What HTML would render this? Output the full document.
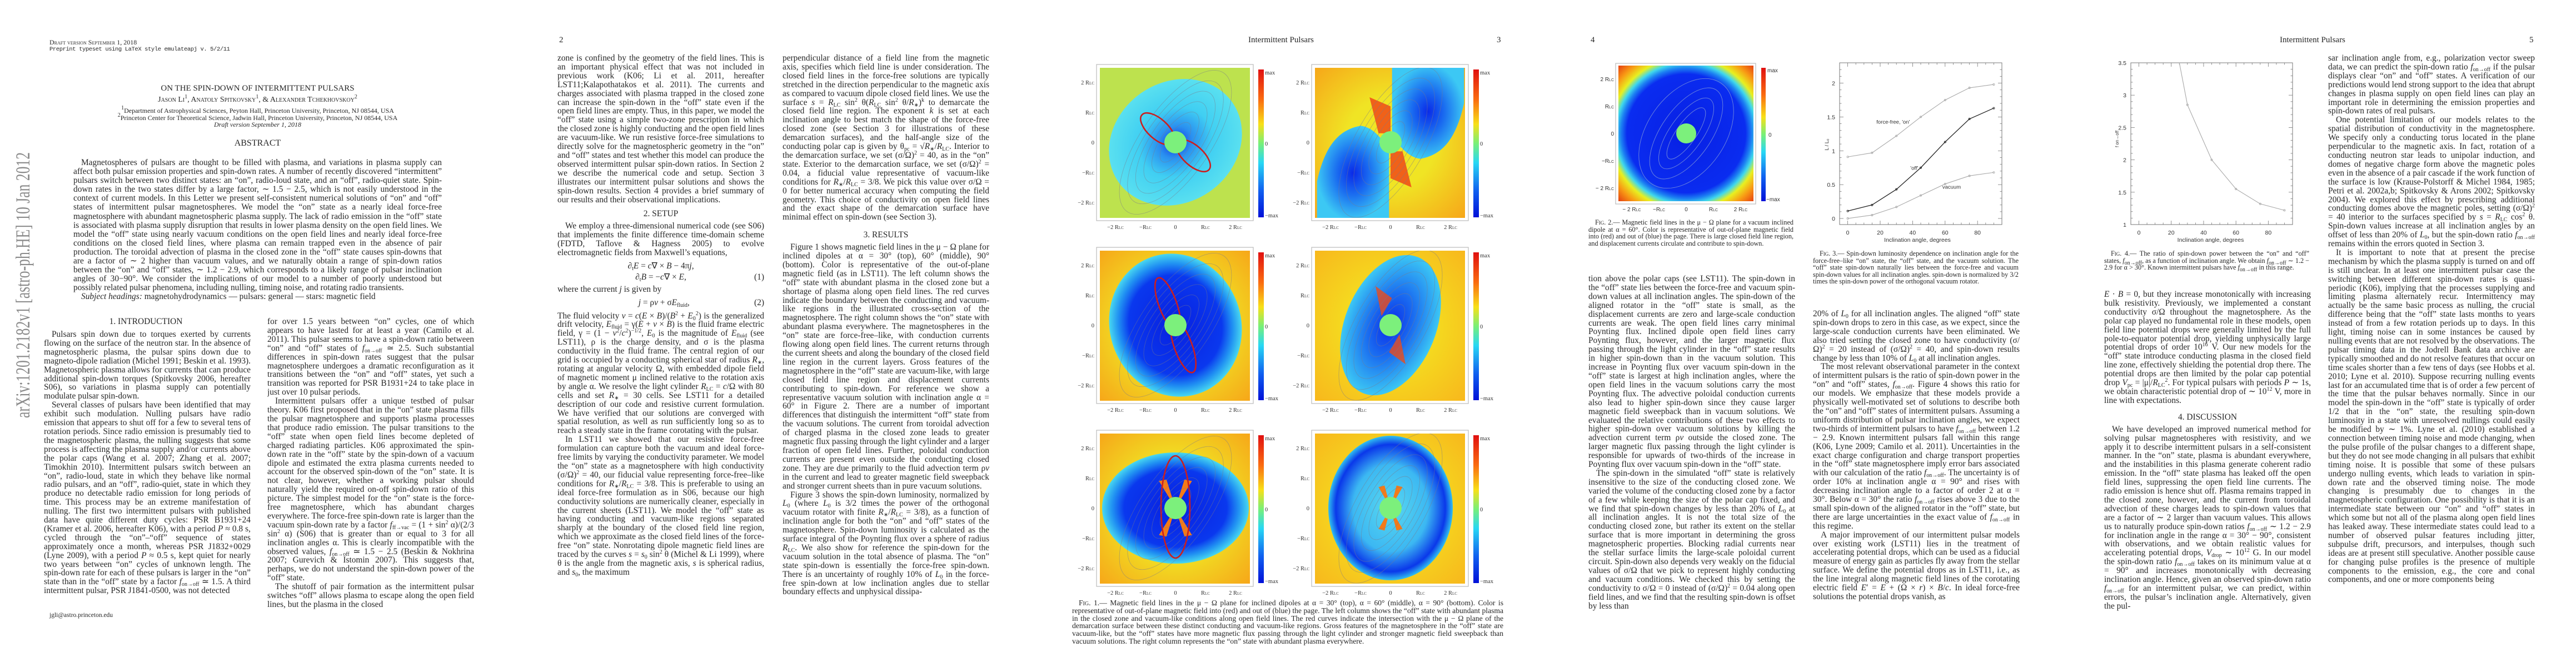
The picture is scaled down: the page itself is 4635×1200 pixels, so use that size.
<!DOCTYPE html>
<html><head><meta charset="utf-8">
<style>
html,body{margin:0;padding:0;background:#fff}
body{width:4635px;height:1200px;position:relative;overflow:hidden;font-family:"Liberation Serif",serif;color:#262626}
.abs{position:absolute}
.col{position:absolute;width:372px;font-size:15.4px;line-height:15.9px;text-align:justify;overflow:hidden}
.col p{margin:0;text-indent:14px}
.col p.ni{text-indent:0}
.sec{text-align:center;margin:10px 0 6px 0;font-size:15.4px;letter-spacing:0}
.eq{text-align:center;position:relative;margin:4px 0}
.eq .n{position:absolute;right:0}
.sb{font-size:10px;position:relative;top:3px;line-height:0}
.sp{font-size:10px;position:relative;top:-6px;line-height:0}
.cap{position:absolute;font-size:12.2px;line-height:12.6px;text-align:justify}
.cap p{margin:0;text-indent:12px}
.hdr{position:absolute;font-size:15px;top:64px}
svg text{font-family:"Liberation Sans",sans-serif}
.sc{font-variant:small-caps}
</style></head>
<body>

<svg class="abs" style="left:0;top:0" width="80" height="1200">
<text x="0" y="0" transform="translate(53,752) rotate(-90)" textLength="478" lengthAdjust="spacingAndGlyphs" font-size="36" fill="#8a8a8a" style="font-family:'Liberation Serif',serif">arXiv:1201.2182v1  [astro-ph.HE]  10 Jan 2012</text>
</svg>

<!-- PAGE 1 -->
<div class="abs sc" style="left:89px;top:69px;font-size:12px">Draft version September 1, 2018</div>
<div class="abs" style="left:89px;top:83px;font-size:10.5px;font-family:'Liberation Mono',monospace;letter-spacing:-0.4px">Preprint typeset using LaTeX style emulateapj v. 5/2/11</div>
<div class="abs" style="left:132px;width:663px;top:151px;text-align:center;font-size:15px">ON THE SPIN-DOWN OF INTERMITTENT PULSARS</div>
<div class="abs sc" style="left:132px;width:663px;top:172px;text-align:center;font-size:14px">Jason Li<span class="sp">1</span>, Anatoly Spitkovsky<span class="sp">1</span>, &amp; Alexander Tchekhovskoy<span class="sp">2</span></div>
<div class="abs" style="left:132px;width:663px;top:193px;text-align:center;font-size:12px;line-height:12.6px"><span class="sp">1</span>Department of Astrophysical Sciences, Peyton Hall, Princeton University, Princeton, NJ 08544, USA<br><span class="sp">2</span>Princeton Center for Theoretical Science, Jadwin Hall, Princeton University, Princeton, NJ 08544, USA<br><i>Draft version September 1, 2018</i></div>
<div class="abs" style="left:132px;width:663px;top:249px;text-align:center;font-size:16px">ABSTRACT</div>
<div class="col fit" style="left:132px;width:663px;top:285px;height:262px;line-height:16.1px"><p>Magnetospheres of pulsars are thought to be filled with plasma, and variations in plasma supply can affect both pulsar emission properties and spin-down rates. A number of recently discovered “intermittent” pulsars switch between two distinct states: an “on”, radio-loud state, and an “off”, radio-quiet state. Spin-down rates in the two states differ by a large factor, ∼ 1.5 − 2.5, which is not easily understood in the context of current models. In this Letter we present self-consistent numerical solutions of “on” and “off” states of intermittent pulsar magnetospheres. We model the “on” state as a nearly ideal force-free magnetosphere with abundant magnetospheric plasma supply. The lack of radio emission in the “off” state is associated with plasma supply disruption that results in lower plasma density on the open field lines. We model the “off” state using nearly vacuum conditions on the open field lines and nearly ideal force-free conditions on the closed field lines, where plasma can remain trapped even in the absence of pair production. The toroidal advection of plasma in the closed zone in the “off” state causes spin-downs that are a factor of ∼ 2 higher than vacuum values, and we naturally obtain a range of spin-down ratios between the “on” and “off” states, ∼ 1.2 − 2.9, which corresponds to a likely range of pulsar inclination angles of 30−90°. We consider the implications of our model to a number of poorly understood but possibly related pulsar phenomena, including nulling, timing noise, and rotating radio transients.</p>
<p><i>Subject headings:</i> magnetohydrodynamics — pulsars: general — stars: magnetic field</p></div>

<div class="abs" style="left:79px;width:367px;top:570px;text-align:center;font-size:15.4px">1. INTRODUCTION</div>
<div class="col fit" style="left:79px;top:594px;height:495px"><p>Pulsars spin down due to torques exerted by currents flowing on the surface of the neutron star. In the absence of magnetospheric plasma, the pulsar spins down due to magneto-dipole radiation (Michel 1991; Beskin et al. 1993). Magnetospheric plasma allows for currents that can produce additional spin-down torques (Spitkovsky 2006, hereafter S06), so variations in plasma supply can potentially modulate pulsar spin-down.</p><p>Several classes of pulsars have been identified that may exhibit such modulation. Nulling pulsars have radio emission that appears to shut off for a few to several tens of rotation periods. Since radio emission is presumably tied to the magnetospheric plasma, the nulling suggests that some process is affecting the plasma supply and/or currents above the polar caps (Wang et al. 2007; Zhang et al. 2007; Timokhin 2010). Intermittent pulsars switch between an “on”, radio-loud, state in which they behave like normal radio pulsars, and an “off”, radio-quiet, state in which they produce no detectable radio emission for long periods of time. This process may be an extreme manifestation of nulling. The first two intermittent pulsars with published data have quite different duty cycles: PSR B1931+24 (Kramer et al. 2006, hereafter K06), with a period <i>P</i> ≈ 0.8 s, cycled through the “on”–“off” sequence of states approximately once a month, whereas PSR J1832+0029 (Lyne 2009), with a period <i>P</i> ≈ 0.5 s, kept quiet for nearly two years between “on” cycles of unknown length. The spin-down rate for each of these pulsars is larger in the “on” state than in the “off” state by a factor <i>f</i><span class="sb">on→off</span> ≃ 1.5. A third intermittent pulsar, PSR J1841-0500, was not detected</p></div>
<div class="abs" style="left:89px;top:1101px;font-size:11.5px">jgli@astro.princeton.edu</div>
<div class="col fit" style="left:481px;top:571px;height:546px"><p class="ni">for over 1.5 years between “on” cycles, one of which appears to have lasted for at least a year (Camilo et al. 2011). This pulsar seems to have a spin-down ratio between “on” and “off” states of <i>f</i><span class="sb">on→off</span> ≃ 2.5. Such substantial differences in spin-down rates suggest that the pulsar magnetosphere undergoes a dramatic reconfiguration as it transitions between the “on” and “off” states, yet such a transition was reported for PSR B1931+24 to take place in just over 10 pulsar periods.</p><p>Intermittent pulsars offer a unique testbed of pulsar theory. K06 first proposed that in the “on” state plasma fills the pulsar magnetosphere and supports plasma processes that produce radio emission. The pulsar transitions to the “off” state when open field lines become depleted of charged radiating particles. K06 approximated the spin-down rate in the “off” state by the spin-down of a vacuum dipole and estimated the extra plasma currents needed to account for the observed spin-down of the “on” state. It is not clear, however, whether a working pulsar should naturally yield the required on-off spin-down ratio of this picture. The simplest model for the “on” state is the force-free magnetosphere, which has abundant charges everywhere. The force-free spin-down rate is larger than the vacuum spin-down rate by a factor <i>f</i><span class="sb">ff→vac</span> = (1 + sin<span class="sp">2</span> α)/(2/3 sin<span class="sp">2</span> α) (S06) that is greater than or equal to 3 for all inclination angles α. This is clearly incompatible with the observed values, <i>f</i><span class="sb">on→off</span> ≃ 1.5 − 2.5 (Beskin &amp; Nokhrina 2007; Gurevich &amp; Istomin 2007). This suggests that, perhaps, we do not understand the spin-down power of the “off” state.</p><p>The shutoff of pair formation as the intermittent pulsar switches “off” allows plasma to escape along the open field lines, but the plasma in the closed</p></div>

<!-- PAGE 2 -->
<div class="hdr" style="left:1006px">2</div>
<div class="col fit" style="left:1003px;top:97px;height:1021px"><p class="ni">zone is confined by the geometry of the field lines. This is an important physical effect that was not included in previous work (K06; Li et al. 2011, hereafter LST11;Kalapothatakos et al. 2011). The currents and charges associated with plasma trapped in the closed zone can increase the spin-down in the “off” state even if the open field lines are empty. Thus, in this paper, we model the “off” state using a simple two-zone prescription in which the closed zone is highly conducting and the open field lines are vacuum-like. We run resistive force-free simulations to directly solve for the magnetospheric geometry in the “on” and “off” states and test whether this model can produce the observed intermittent pulsar spin-down ratios. In Section 2 we describe the numerical code and setup. Section 3 illustrates our intermittent pulsar solutions and shows the spin-down results. Section 4 provides a brief summary of our results and their observational implications.</p>
<div class="sec">2. SETUP</div>
<p>We employ a three-dimensional numerical code (see S06) that implements the finite difference time-domain scheme (FDTD, Taflove &amp; Hagness 2005) to evolve electromagnetic fields from Maxwell’s equations,</p>
<div class="eq" style="margin-top:8px">∂<span class="sb">t</span><i>E</i> = <i>c</i>∇ × <i>B</i> − 4π<i>j</i>,</div>
<div class="eq">∂<span class="sb">t</span><i>B</i> = −<i>c</i>∇ × <i>E</i>,<span class="n">(1)</span></div>
<p class="ni" style="margin-top:6px">where the current <i>j</i> is given by</p>
<div class="eq" style="margin:8px 0">&nbsp;&nbsp;&nbsp;<i>j</i> = ρ<i>v</i> + σ<i>E</i><span class="sb">fluid</span>,<span class="n">(2)</span></div>
<p class="ni">The fluid velocity <i>v</i> = <i>c</i>(<i>E</i> × <i>B</i>)/(<i>B</i><span class="sp">2</span> + <i>E</i><span class="sb">0</span><span class="sp">2</span>) is the generalized drift velocity, <i>E</i><span class="sb">fluid</span> = γ(<i>E</i> + <i>v</i> × <i>B</i>) is the fluid frame electric field, γ = (1 − <i>v</i><span class="sp">2</span>/<i>c</i><span class="sp">2</span>)<span class="sp">−1/2</span>, <i>E</i><span class="sb">0</span> is the magnitude of <i>E</i><span class="sb">fluid</span> (see LST11), ρ is the charge density, and σ is the plasma conductivity in the fluid frame. The central region of our grid is occupied by a conducting spherical star of radius <i>R</i><span class="sb">∗</span>, rotating at angular velocity Ω, with embedded dipole field of magnetic moment μ inclined relative to the rotation axis by angle α. We resolve the light cylinder <i>R</i><span class="sb">LC</span> = <i>c</i>/Ω with 80 cells and set <i>R</i><span class="sb">∗</span> = 30 cells. See LST11 for a detailed description of our code and resistive current formulation. We have verified that our solutions are converged with spatial resolution, as well as run sufficiently long so as to reach a steady state in the frame corotating with the pulsar.</p><p>In LST11 we showed that our resistive force-free formulation can capture both the vacuum and ideal force-free limits by varying the conductivity parameter. We model the “on” state as a magnetosphere with high conductivity (σ/Ω)<span class="sp">2</span> = 40, our fiducial value representing force-free–like conditions for <i>R</i><span class="sb">∗</span>/<i>R</i><span class="sb">LC</span> = 3/8. This is preferable to using an ideal force-free formulation as in S06, because our high conductivity solutions are numerically cleaner, especially in the current sheets (LST11). We model the “off” state as having conducting and vacuum-like regions separated sharply at the boundary of the closed field line region, which we approximate as the closed field lines of the force-free “on” state. Nonrotating dipole magnetic field lines are traced by the curves <i>s</i> = <i>s</i><span class="sb">0</span> sin<span class="sp">2</span> θ (Michel &amp; Li 1999), where θ is the angle from the magnetic axis, <i>s</i> is spherical radius, and <i>s</i><span class="sb">0</span>, the maximum</p></div>
<div class="col fit" style="left:1408px;top:97px;height:1021px"><p class="ni">perpendicular distance of a field line from the magnetic axis, specifies which field line is under consideration. The closed field lines in the force-free solutions are typically stretched in the direction perpendicular to the magnetic axis as compared to vacuum dipole closed field lines. We use the surface <i>s</i> = <i>R</i><span class="sb">LC</span> sin<span class="sp">2</span> θ(<i>R</i><span class="sb">LC</span> sin<span class="sp">2</span> θ/<i>R</i><span class="sb">∗</span>)<span class="sp">k</span> to demarcate the closed field line region. The exponent <i>k</i> is set at each inclination angle to best match the shape of the force-free closed zone (see Section 3 for illustrations of these demarcation surfaces), and the half-angle size of the conducting polar cap is given by θ<span class="sb">pc</span> = √<i>R</i><span class="sb">∗</span>/<i>R</i><span class="sb">LC</span>. Interior to the demarcation surface, we set (σ/Ω)<span class="sp">2</span> = 40, as in the “on” state. Exterior to the demarcation surface, we set (σ/Ω)<span class="sp">2</span> = 0.04, a fiducial value representative of vacuum-like conditions for <i>R</i><span class="sb">∗</span>/<i>R</i><span class="sb">LC</span> = 3/8. We pick this value over σ/Ω = 0 for better numerical accuracy when computing the field geometry. This choice of conductivity on open field lines and the exact shape of the demarcation surface have minimal effect on spin-down (see Section 3).</p>
<div class="sec" style="margin-top:16px">3. RESULTS</div>
<p>Figure 1 shows magnetic field lines in the μ − Ω plane for inclined dipoles at α = 30° (top), 60° (middle), 90° (bottom). Color is representative of the out-of-plane magnetic field (as in LST11). The left column shows the “off” state with abundant plasma in the closed zone but a shortage of plasma along open field lines. The red curves indicate the boundary between the conducting and vacuum-like regions in the illustrated cross-section of the magnetosphere. The right column shows the “on” state with abundant plasma everywhere. The magnetospheres in the “on” state are force-free–like, with conduction currents flowing along open field lines. The current returns through the current sheets and along the boundary of the closed field line region in the current layers. Gross features of the magnetosphere in the “off” state are vacuum-like, with large closed field line region and displacement currents contributing to spin-down. For reference we show a representative vacuum solution with inclination angle α = 60° in Figure 2. There are a number of important differences that distinguish the intermittent “off” state from the vacuum solutions. The current from toroidal advection of charged plasma in the closed zone leads to greater magnetic flux passing through the light cylinder and a larger fraction of open field lines. Further, poloidal conduction currents are present even outside the conducting closed zone. They are due primarily to the fluid advection term ρ<i>v</i> in the current and lead to greater magnetic field sweepback and stronger current sheets than in pure vacuum solutions.</p><p>Figure 3 shows the spin-down luminosity, normalized by <i>L</i><span class="sb">0</span> (where <i>L</i><span class="sb">0</span> is 3/2 times the power of the orthogonal vacuum rotator with finite <i>R</i><span class="sb">∗</span>/<i>R</i><span class="sb">LC</span> = 3/8), as a function of inclination angle for both the “on” and “off” states of the magnetosphere. Spin-down luminosity is calculated as the surface integral of the Poynting flux over a sphere of radius <i>R</i><span class="sb">LC</span>. We also show for reference the spin-down for the vacuum solution in the total absence of plasma. The “on” state spin-down is essentially the force-free spin-down. There is an uncertainty of roughly 10% of <i>L</i><span class="sb">0</span> in the force-free spin-down at low inclination angles due to stellar boundary effects and unphysical dissipa-</p></div>

<!-- PAGE 3 -->
<div class="hdr" style="left:2246px">Intermittent Pulsars</div>
<div class="hdr" style="left:2693px">3</div>
<svg id="fig1" class="abs" style="left:1900px;top:100px" width="800" height="975">
<defs>
<linearGradient id="jet" x1="0" y1="0" x2="0" y2="1">
<stop offset="0" stop-color="#e01010"/><stop offset="0.2" stop-color="#fa6a10"/><stop offset="0.37" stop-color="#f8e018"/><stop offset="0.5" stop-color="#78f078"/><stop offset="0.63" stop-color="#28d8f4"/><stop offset="0.82" stop-color="#1060f0"/><stop offset="1" stop-color="#0010d8"/></linearGradient>
<radialGradient id="cyanblob"><stop offset="0" stop-color="#1030e0"/><stop offset="0.25" stop-color="#2a90f0"/><stop offset="0.55" stop-color="#40cff2"/><stop offset="1" stop-color="#5ae0f0"/></radialGradient>
<radialGradient id="deepblob"><stop offset="0" stop-color="#0820e0"/><stop offset="0.7" stop-color="#0a38ee"/><stop offset="0.86" stop-color="#2090f2"/><stop offset="1" stop-color="#48d8f0"/></radialGradient>
<radialGradient id="onblob"><stop offset="0" stop-color="#0a2ae8"/><stop offset="0.45" stop-color="#1a6cf0"/><stop offset="1" stop-color="#3cc8f4"/></radialGradient>
<radialGradient id="ringblob"><stop offset="0" stop-color="#58d8f0"/><stop offset="0.6" stop-color="#3cb8f2"/><stop offset="0.88" stop-color="#0a38ea"/><stop offset="1" stop-color="#30c0f0"/></radialGradient>
<radialGradient id="yelbg" cx="0.5" cy="0.5" r="0.75"><stop offset="0.4" stop-color="#f0e424"/><stop offset="1" stop-color="#f7a018"/></radialGradient>
<radialGradient id="yelbg2" cx="0.5" cy="0.5" r="0.75"><stop offset="0.3" stop-color="#f4e020"/><stop offset="1" stop-color="#f8b41c"/></radialGradient>
<clipPath id="pclip"><rect x="0" y="0" width="270" height="270"/></clipPath>
</defs>
</svg>
<div class="cap" style="left:1929px;top:1078px;width:776px;font-size:13.6px;line-height:13.8px"><p><span class="sc">Fig.</span> 1.— Magnetic field lines in the μ − Ω plane for inclined dipoles at α = 30° (top), α = 60° (middle), α = 90° (bottom). Color is representative of out-of-plane magnetic field into (red) and out of (blue) the page. The left column shows the “off” state with abundant plasma in the closed zone and vacuum-like conditions along open field lines. The red curves indicate the intersection with the μ − Ω plane of the demarcation surface between these distinct conducting and vacuum-like regions. Gross features of the magnetosphere in the “off” state are vacuum-like, but the “off” states have more magnetic flux passing through the light cylinder and stronger magnetic field sweepback than vacuum solutions. The right column represents the “on” state with abundant plasma everywhere.</p></div>

<!-- PAGE 4 -->
<div class="hdr" style="left:2862px">4</div>
<svg id="fig2" class="abs" style="left:2850px;top:100px" width="380" height="290">
<defs>
<radialGradient id="vacgrad" gradientUnits="userSpaceOnUse" cx="184" cy="140" r="178"><stop offset="0" stop-color="#0820e4"/><stop offset="0.6" stop-color="#0a2cf0"/><stop offset="0.66" stop-color="#1c80f2"/><stop offset="0.71" stop-color="#40d8ec"/><stop offset="0.77" stop-color="#e8f020"/><stop offset="0.86" stop-color="#f89a14"/><stop offset="1" stop-color="#e02410"/></radialGradient>
<linearGradient id="jet2" x1="0" y1="0" x2="0" y2="1">
<stop offset="0" stop-color="#e01010"/><stop offset="0.2" stop-color="#fa6a10"/><stop offset="0.37" stop-color="#f8e018"/><stop offset="0.5" stop-color="#78f078"/><stop offset="0.63" stop-color="#28d8f4"/><stop offset="0.82" stop-color="#1060f0"/><stop offset="1" stop-color="#0010d8"/></linearGradient>
</defs>
<rect x="57" y="14" width="252" height="253" fill="#fff" stroke="#bbb" stroke-width="1.2"/>
<rect x="62" y="18" width="243" height="244" fill="url(#vacgrad)"/>
<g fill="none" stroke="#8aa0d8" stroke-width="0.9" opacity="0.8">
<ellipse cx="184" cy="140" rx="95" ry="45" transform="rotate(-55 184 140)"/>
<ellipse cx="184" cy="140" rx="75" ry="30" transform="rotate(-55 184 140)"/>
<ellipse cx="184" cy="140" rx="110" ry="70" transform="rotate(-55 184 140)"/>
<ellipse cx="184" cy="140" rx="55" ry="18" transform="rotate(-55 184 140)"/>
</g>
<circle cx="184" cy="140" r="18" fill="#7cf07c"/>
<rect x="319" y="22" width="8" height="240" fill="url(#jet2)"/>
<g font-size="10" fill="#333" style="font-family:'Liberation Serif',serif">
<text x="330" y="30">max</text><text x="332" y="146">0</text><text x="328" y="262">−max</text>
<text x="54" y="46" text-anchor="end">2 R<tspan font-size="7">LC</tspan></text>
<text x="54" y="95" text-anchor="end">R<tspan font-size="7">LC</tspan></text>
<text x="54" y="144" text-anchor="end">0</text>
<text x="54" y="193" text-anchor="end">−R<tspan font-size="7">LC</tspan></text>
<text x="54" y="242" text-anchor="end">− 2 R<tspan font-size="7">LC</tspan></text>
<text x="86" y="280" text-anchor="middle">− 2 R<tspan font-size="7">LC</tspan></text>
<text x="135" y="280" text-anchor="middle">−R<tspan font-size="7">LC</tspan></text>
<text x="184" y="280" text-anchor="middle">0</text>
<text x="233" y="280" text-anchor="middle">R<tspan font-size="7">LC</tspan></text>
<text x="282" y="280" text-anchor="middle">2 R<tspan font-size="7">LC</tspan></text>
</g>
</svg>
<div class="cap" style="left:2858px;top:394px;width:369px"><p><span class="sc">Fig.</span> 2.— Magnetic field lines in the μ − Ω plane for a vacuum inclined dipole at α = 60°. Color is representative of out-of-plane magnetic field into (red) and out of (blue) the page. There is large closed field line region, and displacement currents circulate and contribute to spin-down.</p></div>
<div class="col fit" style="left:2858px;top:494px;height:624px"><p class="ni">tion above the polar caps (see LST11). The spin-down in the “off” state lies between the force-free and vacuum spin-down values at all inclination angles. The spin-down of the aligned rotator in the “off” state is small, as the displacement currents are zero and large-scale conduction currents are weak. The open field lines carry minimal Poynting flux. Inclined dipole open field lines carry Poynting flux, however, and the larger magnetic flux passing through the light cylinder in the “off” state results in higher spin-down than in the vacuum solution. This increase in Poynting flux over vacuum spin-down in the “off” state is largest at high inclination angles, where the open field lines in the vacuum solutions carry the most Poynting flux. The advective poloidal conduction currents also lead to higher spin-down since they cause larger magnetic field sweepback than in vacuum solutions. We evaluated the relative contributions of these two effects to higher spin-down over vacuum solutions by killing the advection current term ρ<i>v</i> outside the closed zone. The larger magnetic flux passing through the light cylinder is responsible for upwards of two-thirds of the increase in Poynting flux over vacuum spin-down in the “off” state.</p><p>The spin-down in the simulated “off” state is relatively insensitive to the size of the conducting closed zone. We varied the volume of the conducting closed zone by a factor of a few while keeping the size of the polar cap fixed, and we find that spin-down changes by less than 20% of <i>L</i><span class="sb">0</span> at all inclination angles. It is not the total size of the conducting closed zone, but rather its extent on the stellar surface that is more important in determining the gross magnetospheric properties. Blocking radial currents near the stellar surface limits the large-scale poloidal current circuit. Spin-down also depends very weakly on the fiducial values of σ/Ω that we pick to represent highly conducting and vacuum conditions. We checked this by setting the conductivity to σ/Ω = 0 instead of (σ/Ω)<span class="sp">2</span> = 0.04 along open field lines, and we find that the resulting spin-down is offset by less than</p></div>

<svg id="fig3" class="abs" style="left:3240px;top:100px" width="400" height="340"></svg>
<div class="cap" style="left:3262px;top:450px;width:370px"><p><span class="sc">Fig.</span> 3.— Spin-down luminosity dependence on inclination angle for the force-free–like “on” state, the “off” state, and the vacuum solution. The “off” state spin-down naturally lies between the force-free and vacuum spin-down values for all inclination angles. spin-down is normalized by 3/2 times the spin-down power of the orthogonal vacuum rotator.</p></div>
<div class="col fit" style="left:3262px;top:557px;height:561px"><p class="ni">20% of <i>L</i><span class="sb">0</span> for all inclination angles. The aligned “off” state spin-down drops to zero in this case, as we expect, since the large-scale conduction currents have been eliminated. We also tried setting the closed zone to have conductivity (σ/Ω)<span class="sp">2</span> = 20 instead of (σ/Ω)<span class="sp">2</span> = 40, and spin-down results change by less than 10% of <i>L</i><span class="sb">0</span> at all inclination angles.</p><p>The most relevant observational parameter in the context of intermittent pulsars is the ratio of spin-down power in the “on” and “off” states, <i>f</i><span class="sb">on→off</span>. Figure 4 shows this ratio for our models. We emphasize that these models provide a physically well-motivated set of solutions to describe both the “on” and “off” states of intermittent pulsars. Assuming a uniform distribution of pulsar inclination angles, we expect two-thirds of intermittent pulsars to have <i>f</i><span class="sb">on→off</span> between 1.2 − 2.9. Known intermittent pulsars fall within this range (K06, Lyne 2009; Camilo et al. 2011). Uncertainties in the exact charge configuration and charge transport properties in the “off” state magnetosphere imply error bars associated with our calculation of the ratio <i>f</i><span class="sb">on→off</span>. The uncertainty is of order 10% at inclination angle α = 90° and rises with decreasing inclination angle to a factor of order 2 at α = 30°. Below α = 30° the ratio <i>f</i><span class="sb">on→off</span> rises above 3 due to the small spin-down of the aligned rotator in the “off” state, but there are large uncertainties in the exact value of <i>f</i><span class="sb">on→off</span> in this regime.</p><p>A major improvement of our intermittent pulsar models over existing work (LST11) lies in the treatment of accelerating potential drops, which can be used as a fiducial measure of energy gain as particles fly away from the stellar surface. We define the potential drops as in LST11, i.e., as the line integral along magnetic field lines of the corotating electric field <i>E</i>′ = <i>E</i> + (Ω × <i>r</i>) × <i>B</i>/<i>c</i>. In ideal force-free solutions the potential drops vanish, as</p></div>

<!-- PAGE 5 -->
<div class="hdr" style="left:4102px">Intermittent Pulsars</div>
<div class="hdr" style="left:4551px">5</div>
<svg id="fig4" class="abs" style="left:3770px;top:100px" width="400" height="340"></svg>
<div class="cap" style="left:3786px;top:450px;width:369px"><p><span class="sc">Fig.</span> 4.— The ratio of spin-down power between the “on” and “off” states, <i>f</i><span class="sb">on→off</span>, as a function of inclination angle. We obtain <i>f</i><span class="sb">on→off</span> ∼ 1.2 − 2.9 for α &gt; 30°. Known intermittent pulsars have <i>f</i><span class="sb">on→off</span> in this range.</p></div>
<div class="col fit" style="left:3786px;top:522px;height:596px"><p class="ni"><i>E</i> · <i>B</i> = 0, but they increase monotonically with increasing bulk resistivity. Previously, we implemented a constant conductivity σ/Ω throughout the magnetosphere. As the polar cap played no fundamental role in these models, open field line potential drops were generally limited by the full pole-to-equator potential drop, yielding unphysically large potential drops of order 10<span class="sp">16</span> V. Our new models for the “off” state introduce conducting plasma in the closed field line zone, effectively shielding the potential drop there. The potential drops are then limited by the polar cap potential drop <i>V</i><span class="sb">pc</span> = |μ|/<i>R</i><span class="sb">LC</span><span class="sp">2</span>. For typical pulsars with periods <i>P</i> ∼ 1s, we obtain characteristic potential drop of ∼ 10<span class="sp">12</span> V, more in line with expectations.</p>
<div class="sec" style="margin-top:14px">4. DISCUSSION</div>
<p>We have developed an improved numerical method for solving pulsar magnetospheres with resistivity, and we apply it to describe intermittent pulsars in a self-consistent manner. In the “on” state, plasma is abundant everywhere, and the instabilities in this plasma generate coherent radio emission. In the “off” state plasma has leaked off the open field lines, suppressing the open field line currents. The radio emission is hence shut off. Plasma remains trapped in the closed zone, however, and the current from toroidal advection of these charges leads to spin-down values that are a factor of ∼ 2 larger than vacuum values. This allows us to naturally produce spin-down ratios <i>f</i><span class="sb">on→off</span> ∼ 1.2 − 2.9 for inclination angle in the range α = 30° − 90°, consistent with observations, and we obtain realistic values for accelerating potential drops, <i>V</i><span class="sb">drop</span> ∼ 10<span class="sp">12</span> G. In our model the spin-down ratio <i>f</i><span class="sb">on→off</span> takes on its minimum value at α = 90° and increases monotonically with decreasing inclination angle. Hence, given an observed spin-down ratio <i>f</i><span class="sb">on→off</span> for an intermittent pulsar, we can predict, within errors, the pulsar’s inclination angle. Alternatively, given the pul-</p></div>
<div class="col fit" style="left:4189px;top:97px;height:1021px"><p class="ni">sar inclination angle from, e.g., polarization vector sweep data, we can predict the spin-down ratio <i>f</i><span class="sb">on→off</span> if the pulsar displays clear “on” and “off” states. A verification of our predictions would lend strong support to the idea that abrupt changes in plasma supply on open field lines can play an important role in determining the emission properties and spin-down rates of real pulsars.</p><p>One potential limitation of our models relates to the spatial distribution of conductivity in the magnetosphere. We specify only a conducting torus located in the plane perpendicular to the magnetic axis. In fact, rotation of a conducting neutron star leads to unipolar induction, and domes of negative charge form above the magnetic poles even in the absence of a pair cascade if the work function of the surface is low (Krause-Polstorff &amp; Michel 1984, 1985; Petri et al. 2002a,b; Spitkovsky &amp; Arons 2002; Spitkovsky 2004). We explored this effect by prescribing additional conducting domes above the magnetic poles, setting (σ/Ω)<span class="sp">2</span> = 40 interior to the surfaces specified by <i>s</i> = <i>R</i><span class="sb">LC</span> cos<span class="sp">2</span> θ. Spin-down values increase at all inclination angles by an offset of less than 20% of <i>L</i><span class="sb">0</span>, but the spin-down ratio <i>f</i><span class="sb">on→off</span> remains within the errors quoted in Section 3.</p><p>It is important to note that at present the precise mechanism by which the plasma supply is turned on and off is still unclear. In at least one intermittent pulsar case the switching between different spin-down rates is quasi-periodic (K06), implying that the processes supplying and limiting plasma alternately recur. Intermittency may actually be the same basic process as nulling, the crucial difference being that the “off” state lasts months to years instead of from a few rotation periods up to days. In this light, timing noise can in some instances be caused by nulling events that are not resolved by the observations. The pulsar timing data in the Jodrell Bank data archive are typically smoothed and do not resolve features that occur on time scales shorter than a few tens of days (see Hobbs et al. 2010; Lyne et al. 2010). Suppose recurring nulling events last for an accumulated time that is of order a few percent of the time that the pulsar behaves normally. Since in our model the spin-down in the “off” state is typically of order 1/2 that in the “on” state, the resulting spin-down luminosity in a state with unresolved nullings could easily be modified by ∼ 1%. Lyne et al. (2010) established a connection between timing noise and mode changing, when the pulse profile of the pulsar changes to a different shape, but they do not see mode changing in all pulsars that exhibit timing noise. It is possible that some of these pulsars undergo nulling events, which leads to variation in spin-down rate and the observed timing noise. The mode changing is presumably due to changes in the magnetospheric configuration. One possibility is that it is an intermediate state between our “on” and “off” states in which some but not all of the plasma along open field lines has leaked away. These intermediate states could lead to a number of observed pulsar features including jitter, subpulse drift, precursors, and interpulses, though such ideas are at present still speculative. Another possible cause for changing pulse profiles is the presence of multiple components to the emission, e.g., the core and conal components, and one or more components being</p></div>

<script>
// ---------- Figure 3 data ----------
const fig3Angles = [0, 15, 30, 45, 60, 75, 90];
const fig3On = [0.91, 0.97, 1.22, 1.50, 1.75, 1.93, 1.98];
const fig3Off = [0.11, 0.20, 0.43, 0.75, 1.13, 1.47, 1.63];
const fig3Vac = [0.00, 0.05, 0.17, 0.34, 0.51, 0.63, 0.68];
const fig3XTicks = [0, 20, 40, 60, 80];
const fig3YTicks = [0, 0.5, 1, 1.5, 2];
const fig3YTickLabels = ["0", "0.5", "1", "1.5", "2"];
// ---------- Figure 4 data ----------
const fig4Angles = [15, 30, 45, 60, 75, 90];
const fig4Ratio = [4.8, 2.85, 2.0, 1.55, 1.32, 1.22];
const fig4XTicks = [0, 20, 40, 60, 80];
const fig4YTicks = [1, 1.5, 2, 2.5, 3, 3.5];
const fig4YTickLabels = ["1", "1.5", "2", "2.5", "3", "3.5"];

// ---------- fit text columns to their height ----------
(function () {
  document.querySelectorAll('.col.fit').forEach(col => {
    const target = col.clientHeight - 6;
    let ls = 0;
    col.style.letterSpacing = '0px';
    let guard = 0;
    while (col.scrollHeight < target && ls < 4 && guard < 200) {
      ls += 0.03;
      col.style.letterSpacing = ls.toFixed(2) + 'px';
      guard++;
    }
    if (col.scrollHeight > col.clientHeight + 2 && ls > 0) {
      ls -= 0.03;
      col.style.letterSpacing = ls.toFixed(2) + 'px';
    }
  });
})();

const NS = "http://www.w3.org/2000/svg";
function mk(parent, tag, attrs) {
  const e = document.createElementNS(NS, tag);
  for (const k in attrs) e.setAttribute(k, attrs[k]);
  parent.appendChild(e);
  return e;
}

function drawFrame(svg, L, T, W, H, xMin, xMax, yMin, yMax, xMinor, yMinor, prefix) {
  const sx = v => L + (v - xMin) / (xMax - xMin) * W;
  const sy = v => T + H - (v - yMin) / (yMax - yMin) * H;
  const box = mk(svg, "rect", {x: L, y: T, width: W, height: H, fill: "#fff", stroke: "#777", "stroke-width": 1});
  
  
  for (let v = Math.ceil(xMin / xMinor) * xMinor; v <= xMax; v += xMinor) {
    const big = Math.abs(v % 20) < 1e-6;
    const len = big ? 7 : 3.5;
    mk(svg, "line", {x1: sx(v), x2: sx(v), y1: T + H, y2: T + H - len, stroke: "#777", "stroke-width": 0.8});
    mk(svg, "line", {x1: sx(v), x2: sx(v), y1: T, y2: T + len, stroke: "#777", "stroke-width": 0.8});
  }
  for (let i = Math.ceil(yMin / yMinor); i * yMinor <= yMax + 1e-9; i++) {
    const v = i * yMinor;
    const big = Math.abs((v * 2) - Math.round(v * 2)) < 1e-6;
    const len = big ? 7 : 3.5;
    mk(svg, "line", {x1: L, x2: L + len, y1: sy(v), y2: sy(v), stroke: "#777", "stroke-width": 0.8});
    mk(svg, "line", {x1: L + W, x2: L + W - len, y1: sy(v), y2: sy(v), stroke: "#777", "stroke-width": 0.8});
  }
  return {sx, sy};
}

function drawSeries(svg, sx, sy, xs, ys, color, width, name) {
  const pts = xs.map((x, i) => sx(x) + "," + sy(ys[i])).join(" ");
  const pl = mk(svg, "polyline", {points: pts, fill: "none", stroke: color, "stroke-width": width, "clip-path": "url(#" + svg.id + "clip)"});
  
  
  xs.forEach((x, i) => {
    const c = mk(svg, "circle", {cx: sx(x), cy: sy(ys[i]), r: 1.6, fill: "none", stroke: color, "stroke-width": 0.8, "clip-path": "url(#" + svg.id + "clip)"});
    
    
  });
}

function txt(svg, x, y, s, size, anchor, name, rot) {
  const t = mk(svg, "text", {x: x, y: y, "font-size": size, fill: "#333", "text-anchor": anchor || "middle"});
  if (rot) t.setAttribute("transform", "rotate(-90 " + x + " " + y + ")");
  t.textContent = s;
  
  
  return t;
}

// Figure 3
(function () {
  const svg = document.getElementById("fig3");
  const L = 70, T = 13, W = 292, H = 291;
  const d = mk(svg, "defs", {});
  const cp = mk(d, "clipPath", {id: "fig3clip"});
  mk(cp, "rect", {x: L, y: T, width: W, height: H});
  const {sx, sy} = drawFrame(svg, L, T, W, H, -5, 95, -0.09, 2.3, 5, 0.1, "fig3");
  fig3XTicks.forEach(v => txt(svg, sx(v), T + H + 18, String(v), 10.5, "middle", "fig3-x-tick-label"));
  fig3YTicks.forEach((v, i) => txt(svg, L - 8, sy(v) + 4, fig3YTickLabels[i], 10.5, "end", "fig3-y-tick-label"));
  txt(svg, L + W / 2 - 6, T + H + 31, "Inclination angle, degrees", 10.5, "middle", "fig3-x-axis-title");
  txt(svg, 50, 160, "L / L₀", 9, "middle", "fig3-y-axis-title", true);
  drawSeries(svg, sx, sy, fig3Angles, fig3On, "#a8a8a8", 1.1, "fig3-on-series");
  drawSeries(svg, sx, sy, fig3Angles, fig3Off, "#222", 1.3, "fig3-off-series");
  drawSeries(svg, sx, sy, fig3Angles, fig3Vac, "#a8a8a8", 1.1, "fig3-vacuum-series");
  txt(svg, sx(28), sy(1.4), "force-free, 'on'", 9.5, "middle", "fig3-on-label");
  txt(svg, sx(41), sy(0.72), "'off'", 9.5, "middle", "fig3-off-label");
  txt(svg, sx(64), sy(0.44), "vacuum", 9.5, "middle", "fig3-vacuum-label");
})();

// Figure 4
(function () {
  const svg = document.getElementById("fig4");
  const L = 64, T = 13, W = 291, H = 291;
  const d = mk(svg, "defs", {});
  const cp = mk(d, "clipPath", {id: "fig4clip"});
  mk(cp, "rect", {x: L, y: T, width: W, height: H});
  const {sx, sy} = drawFrame(svg, L, T, W, H, -5, 95, 1, 3.5, 5, 0.1, "fig4");
  fig4XTicks.forEach(v => txt(svg, sx(v), T + H + 18, String(v), 10.5, "middle", "fig4-x-tick-label"));
  fig4YTicks.forEach((v, i) => txt(svg, L - 8, sy(v) + 4, fig4YTickLabels[i], 10.5, "end", "fig4-y-tick-label"));
  txt(svg, L + W / 2 - 2, T + H + 31, "Inclination angle, degrees", 10.5, "middle", "fig4-x-axis-title");
  txt(svg, 42, 150, "f on→off", 8, "middle", "fig4-y-axis-title", true);
  drawSeries(svg, sx, sy, fig4Angles, fig4Ratio, "#a8a8a8", 1.1, "fig4-ratio-series");
})();

// Figure 1 panels
(function () {
  const svg = document.getElementById("fig1");
  const cols = [79, 466];
  const rows = [22, 351, 680];
  const C = 136, R = 54;
  const P = (x, y) => (C + R * x) + "," + (C - 2 - R * y);
  const panels = [
    {bg: "#bde24e", shapes: [
      ["ellipse", {cx: C, cy: C - 2, rx: 125, ry: 108, transform: "rotate(-35 136 134)", fill: "url(#cyanblob)"}]],
     loops: [[C - 32, C - 26, 38, 18, 42], [C + 32, C + 22, 38, 18, 42]]},
    {bg: "url(#yelbg)", shapes: [
      ["path", {d: "M" + P(0.05, 0.35) + " L" + P(0.05, 2.6) + " L" + P(2.45, 2.6) + " L" + P(2.45, 1.3) + " C" + P(2.2, 0.2) + " " + P(1.8, -0.4) + " " + P(1.0, -0.55) + " C" + P(0.6, -0.5) + " " + P(0.4, -0.2) + " " + P(0.2, 0) + " Z", fill: "url(#onblob)"}],
      ["path", {d: "M" + P(-0.05, -0.35) + " L" + P(-0.05, -2.6) + " L" + P(-2.45, -2.6) + " L" + P(-2.45, -1.3) + " C" + P(-2.2, -0.2) + " " + P(-1.8, 0.4) + " " + P(-1.0, 0.55) + " C" + P(-0.6, 0.5) + " " + P(-0.4, 0.2) + " " + P(-0.2, 0) + " Z", fill: "url(#onblob)"}],
      ["path", {d: "M" + P(-0.4, 0.3) + " L" + P(-0.7, 1.5) + " L" + P(0, 1.2) + " L" + P(0, 0.3) + " Z", fill: "#f04a18", opacity: 0.85}],
      ["path", {d: "M" + P(0.4, -0.3) + " L" + P(0.7, -1.5) + " L" + P(0, -1.2) + " L" + P(0, -0.3) + " Z", fill: "#f04a18", opacity: 0.85}]]},
    {bg: "url(#yelbg)", shapes: [
      ["ellipse", {cx: C, cy: C - 2, rx: 118, ry: 130, transform: "rotate(-20 136 134)", fill: "url(#deepblob)"}]],
     loops: [[C - 14, C - 40, 50, 16, 70], [C + 14, C + 36, 50, 16, 70]]},
    {bg: "url(#yelbg2)", shapes: [
      ["ellipse", {cx: C, cy: C - 2, rx: 82, ry: 132, transform: "rotate(22 136 134)", fill: "url(#onblob)"}],
      ["path", {d: "M" + P(-0.3, 0.3) + " L" + P(-0.5, 1.3) + " L" + P(0.05, 0.9) + " Z", fill: "#f04a18", opacity: 0.8}],
      ["path", {d: "M" + P(0.3, -0.3) + " L" + P(0.5, -1.3) + " L" + P(-0.05, -0.9) + " Z", fill: "#f04a18", opacity: 0.8}]]},
    {bg: "url(#yelbg)", shapes: [
      ["ellipse", {cx: C, cy: C - 2, rx: 132, ry: 100, fill: "url(#deepblob)"}],
      ["path", {d: "M" + P(0, 0) + " L" + P(-0.55, 0.9) + " L" + P(-0.3, 0.95) + " Z M" + P(0, 0) + " L" + P(0.55, 0.9) + " L" + P(0.3, 0.95) + " Z M" + P(0, 0) + " L" + P(-0.55, -0.9) + " L" + P(-0.3, -0.95) + " Z M" + P(0, 0) + " L" + P(0.55, -0.9) + " L" + P(0.3, -0.95) + " Z", fill: "#f47a18"}]],
     loops: [[C, C - 4, 26, 92, 0]]},
    {bg: "url(#yelbg2)", shapes: [
      ["ellipse", {cx: C, cy: C - 2, rx: 112, ry: 130, fill: "url(#ringblob)"}],
      ["path", {d: "M" + P(0, 0) + " L" + P(-0.4, 0.7) + " L" + P(-0.2, 0.75) + " Z M" + P(0, 0) + " L" + P(0.4, 0.7) + " L" + P(0.2, 0.75) + " Z M" + P(0, 0) + " L" + P(-0.4, -0.7) + " L" + P(-0.2, -0.75) + " Z M" + P(0, 0) + " L" + P(0.4, -0.7) + " L" + P(0.2, -0.75) + " Z", fill: "#f47a18"}]]}
  ];
  const names = ["alpha30-off", "alpha30-on", "alpha60-off", "alpha60-on", "alpha90-off", "alpha90-on"];
  const yl = [["2 R", "LC", 2], ["R", "LC", 1], ["0", "", 0], ["−R", "LC", -1], ["−2 R", "LC", -2]];
  panels.forEach((pn, i) => {
    const x0 = cols[i % 2], y0 = rows[Math.floor(i / 2)];
    const frame = mk(svg, "rect", {x: x0 - 6, y: y0 - 6, width: 282, height: 281, fill: "#fff", stroke: "#bbb", "stroke-width": 1.2});
    
    
    const g = mk(svg, "g", {transform: "translate(" + x0 + "," + y0 + ")", "clip-path": "url(#pclip)"});
    
    
    mk(g, "rect", {x: 0, y: 0, width: 270, height: 270, fill: pn.bg});
    pn.shapes.forEach(s => mk(g, s[0], s[1]));
    const fl = mk(g, "g", {fill: "none", stroke: "#7a7a8a", "stroke-width": 0.8, opacity: 0.55});
    for (let k = 1; k <= 6; k++) {
      mk(fl, "ellipse", {cx: C, cy: C - 2, rx: 20 + k * 22, ry: 8 + k * 9, transform: "rotate(" + (i % 2 ? -60 : -55) + " 136 134)"});
    }
    (pn.loops || []).forEach(l => {
      const lp = mk(g, "ellipse", {cx: l[0], cy: l[1], rx: l[2], ry: l[3], transform: "rotate(" + l[4] + " " + l[0] + " " + l[1] + ")", fill: "none", stroke: "#cc1e1e", "stroke-width": 2.6});
      
      
    });
    const star = mk(g, "circle", {cx: C, cy: C - 2, r: 20, fill: "#7cf07c"});
    
    
    const cb = mk(svg, "rect", {x: x0 + 285, y: y0 + 3, width: 10, height: 266, fill: "url(#jet)"});
    
    
    const lab = [["max", y0 + 12], ["0", y0 + 140], ["−max", y0 + 269]];
    lab.forEach(a => {
      const t = mk(svg, "text", {x: x0 + 297, y: a[1], "font-size": 10.5, fill: "#333", style: "font-family:'Liberation Serif',serif"});
      t.textContent = a[0];
      
      
    });
    yl.forEach(a => {
      const t = mk(svg, "text", {x: x0 - 10, y: C - 2 - R * a[2] + y0 + 4, "font-size": 10.5, fill: "#333", "text-anchor": "end", style: "font-family:'Liberation Serif',serif"});
      t.textContent = a[0];
      if (a[1]) { const ts = mk(t, "tspan", {"font-size": 7}); ts.textContent = a[1]; }
      
      
      const t2 = mk(svg, "text", {x: x0 + C + R * a[2], y: y0 + 290, "font-size": 10.5, fill: "#333", "text-anchor": "middle", style: "font-family:'Liberation Serif',serif"});
      t2.textContent = a[0];
      if (a[1]) { const ts2 = mk(t2, "tspan", {"font-size": 7}); ts2.textContent = a[1]; }
      
      
    });
  });
})();
</script>
</body></html>
